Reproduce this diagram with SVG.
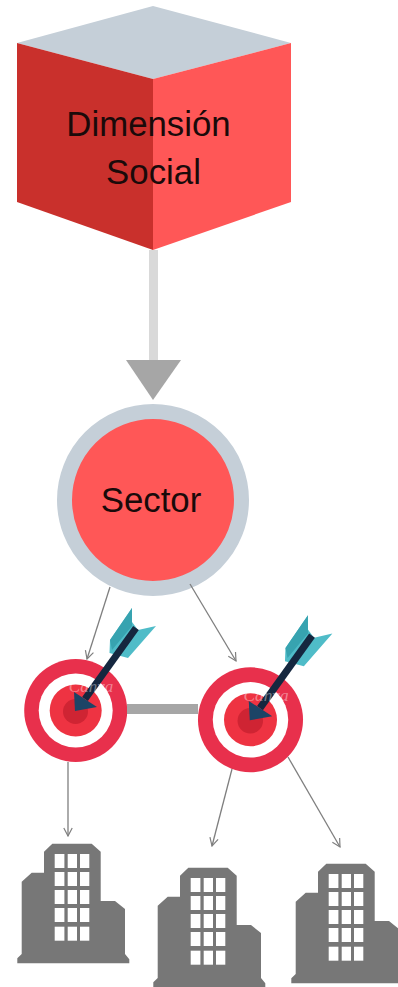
<svg xmlns="http://www.w3.org/2000/svg" width="398" height="987" viewBox="0 0 398 987">
<style>
.lbl{font-family:"Liberation Sans",Arial,sans-serif;font-size:34.800px;fill:#1a0a0a;text-anchor:middle}
.thin{fill:none;stroke:#7f7f7f;stroke-width:1.3}
.wm{font-family:"Liberation Serif",serif;font-style:italic;font-size:17px;fill:#fff;fill-opacity:.4;text-anchor:middle}
</style>
<defs>
<marker id="arr" viewBox="0 0 10 10" refX="9" refY="5" markerWidth="10" markerHeight="10" markerUnits="userSpaceOnUse" orient="auto"><path d="M1 .8L9 5L1 9.2" fill="none" stroke="#7f7f7f" stroke-width="1.2"/></marker>
<g id="target">
<circle cx="75.700" cy="710.500" r="51.500" fill="#e8304c"/>
<circle cx="75.700" cy="710.500" r="37" fill="#fff"/>
<circle cx="75.700" cy="710.500" r="26" fill="#ee3342"/>
<circle cx="75.500" cy="711.500" r="12.500" fill="#cf2433"/>
<path d="M132 608L110 640L109.500 653L128 658L156 626L138 630L132 622Z" fill="#4fbcc8"/>
<path d="M132 608L110 640L112 650L132 626Z" fill="#37a3b0"/>
<path d="M136 628L85 699" stroke="#15273f" stroke-width="7" fill="none"/>
<path d="M74 692L97 707L75 711Z" fill="#1c4466"/>
<text class="wm" x="91" y="692">Canva</text>
</g>
<g id="bld">
<path d="M17.300 963.300V958.300L21.700 954V881.700L31.700 872.700H44V851.700L52.300 843.700H91.700L100.700 851.700V901H115L125 909V954L129.300 959.300V963.300Z" fill="#777"/>
<g fill="#fff">
<rect x="54.700" y="854" width="9.700" height="14"/><rect x="67.700" y="854" width="9.300" height="14"/><rect x="80" y="854" width="9.300" height="14"/>
<rect x="54.700" y="872" width="9.700" height="14"/><rect x="67.700" y="872" width="9.300" height="14"/><rect x="80" y="872" width="9.300" height="14"/>
<rect x="54.700" y="890" width="9.700" height="14"/><rect x="67.700" y="890" width="9.300" height="14"/><rect x="80" y="890" width="9.300" height="14"/>
<rect x="54.700" y="908" width="9.700" height="14"/><rect x="67.700" y="908" width="9.300" height="14"/><rect x="80" y="908" width="9.300" height="14"/>
<rect x="54.700" y="926.700" width="9.700" height="14"/><rect x="67.700" y="926.700" width="9.300" height="14"/><rect x="80" y="926.700" width="9.300" height="14"/>
</g>
</g>
</defs>
<g id="cube">
<path d="M153 6L291 43L153 79L17 43Z" fill="#c5cfd8"/>
<path d="M17 43L153 79V250L17 202Z" fill="#c9302c"/>
<path d="M153 79L291 43V202L153 250Z" fill="#ff5757"/>
<text class="lbl" x="148.500" y="136">Dimensión</text>
<text class="lbl" x="153.500" y="184">Social</text>
</g>
<g id="sector">
<circle cx="153" cy="500" r="88.500" fill="#ff5757" stroke="#c5cfd8" stroke-width="15"/>
<text class="lbl" x="151" y="512">Sector</text>
</g>
<g id="target-1"><use href="#target"/></g>
<g id="target-2"><use href="#target" transform="translate(250.500 719.800) scale(1.020) translate(-75.700 -710.500)"/></g>
<g id="building-1"><use href="#bld"/></g>
<g id="building-2"><use href="#bld" x="136" y="24"/></g>
<g id="building-3"><use href="#bld" x="274" y="20"/></g>
<g id="connectors">
<path d="M153.500 250V360" stroke="#d9d9d9" stroke-width="9" fill="none"/>
<path d="M126 360H181L153 400Z" fill="#a6a6a6"/>
<path d="M127 709H198" stroke="#a6a6a6" stroke-width="10" fill="none"/>
<path class="thin" d="M110 587L87 659" marker-end="url(#arr)"/>
<path class="thin" d="M190 584L236 661" marker-end="url(#arr)"/>
<path class="thin" d="M68 762V836" marker-end="url(#arr)"/>
<path class="thin" d="M232 769L212 846" marker-end="url(#arr)"/>
<path class="thin" d="M288 757L340 847" marker-end="url(#arr)"/>
</g>
</svg>
